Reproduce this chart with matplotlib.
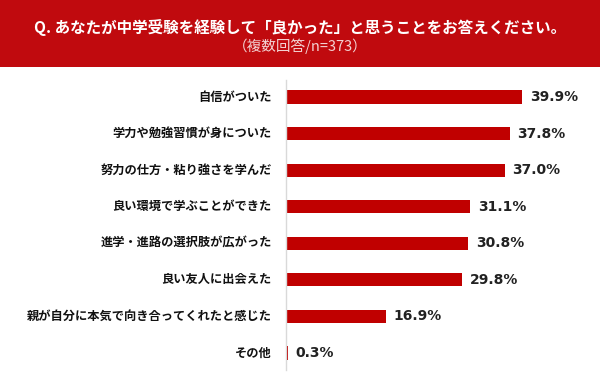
import matplotlib
matplotlib.use("Agg")
import matplotlib.pyplot as plt
from matplotlib.patches import Rectangle

plt.rcParams['font.family'] = ['Noto Sans CJK JP', 'DejaVu Sans']

title = "Q. あなたが中学受験を経験して「良かった」と思うことをお答えください。"
subtitle = "（複数回答/n=373）"
labels = [
    "自信がついた",
    "学力や勉強習慣が身についた",
    "努力の仕方・粘り強さを学んだ",
    "良い環境で学ぶことができた",
    "進学・進路の選択肢が広がった",
    "良い友人に出会えた",
    "親が自分に本気で向き合ってくれたと感じた",
    "その他",
]
values = [39.9, 37.8, 37.0, 31.1, 30.8, 29.8, 16.9, 0.3]

W, H = 600, 379
red = "#C00000"

fig = plt.figure(figsize=(W / 100, H / 100), dpi=100)
fig.patch.set_facecolor("white")

# header band
fig.patches.append(Rectangle((0, 1 - 67 / H), 1, 67 / H, transform=fig.transFigure,
                             facecolor="#C00A0E", edgecolor="none", zorder=0))
fig.text(0.5, 1 - 28 / H, title, color="white", fontsize=11.2, fontweight="bold",
         ha="center", va="center")
fig.text(0.5, 1 - 46 / H, subtitle, color="#F3D2D2", fontsize=10.5,
         ha="center", va="center")

# chart area
x0, x1 = 286, 592
y_top, y_bot = 80, 370
ax = fig.add_axes([x0 / W, 1 - y_bot / H, (x1 - x0) / W, (y_bot - y_top) / H])
px_per_pct = 5.915
ax.set_xlim(0, (x1 - x0) / px_per_pct)
n = len(values)
ax.set_ylim(n - 1 + 0.465, -0.465)

pos = list(range(n))
ax.barh(pos, values, height=0.36, color=red, edgecolor="none")
for p, v, lab in zip(pos, values, labels):
    ax.text(v + 1.3, p, f"{v:.1f}%", fontsize=10, fontweight="bold",
            family="DejaVu Sans", color="#222222", va="center", ha="left")
    ax.text(-2.4, p, lab, fontsize=8.8, fontweight="bold", color="#111111",
            va="center", ha="right")

for s in ["top", "right", "bottom"]:
    ax.spines[s].set_visible(False)
ax.spines["left"].set_color("#D9D9D9")
ax.spines["left"].set_linewidth(1)
ax.set_xticks([])
ax.set_yticks([])
ax.patch.set_alpha(0)

fig.savefig("out.png", dpi=100)
